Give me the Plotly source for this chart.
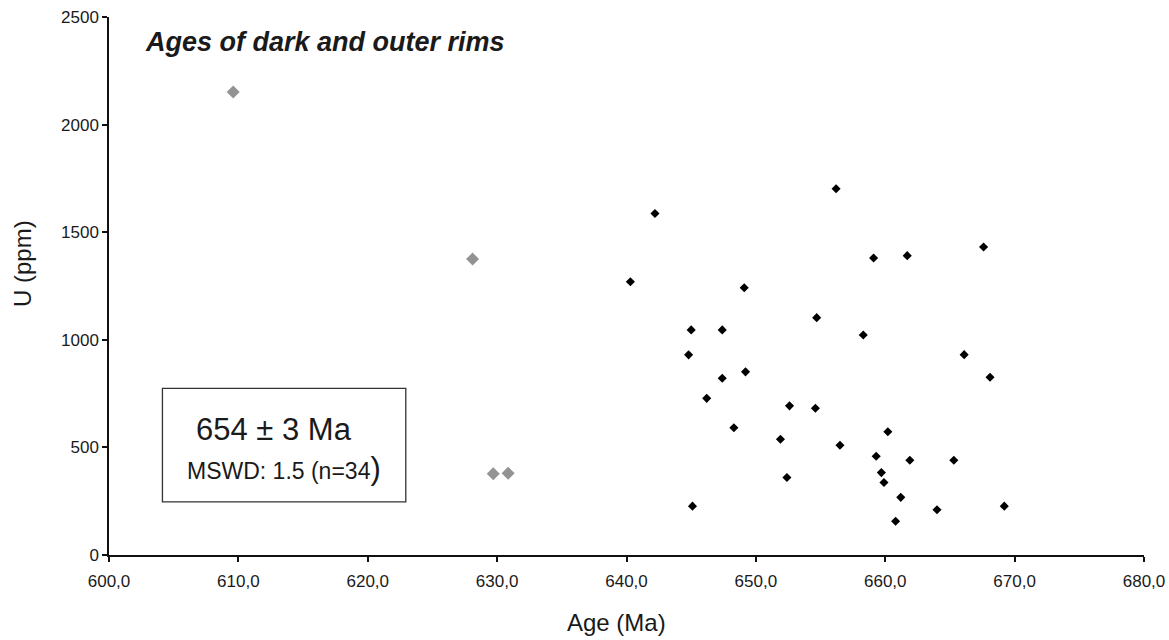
import plotly.graph_objects as go

# Data
age_rims = [656.2, 642.2, 667.6, 659.1, 661.7, 640.3, 649.1, 654.7, 658.3, 645.0,
            647.4, 644.8, 666.1, 647.4, 649.2, 668.1, 646.2, 652.6, 654.6, 648.3,
            651.9, 660.2, 656.5, 659.3, 661.9, 665.3, 659.7, 659.9, 652.4, 661.2,
            645.1, 664.0, 669.2, 660.8]
u_rims = [1702, 1587, 1431, 1380, 1391, 1270, 1242, 1103, 1022, 1046,
          1046, 930, 931, 821, 851, 826, 728, 693, 682, 591,
          538, 573, 510, 459, 440, 440, 383, 337, 360, 268,
          227, 210, 227, 157]

age_excluded = [609.6, 628.1, 629.7, 630.85]
u_excluded = [2152, 1375, 377, 380]

x_ticks = [600, 610, 620, 630, 640, 650, 660, 670, 680]
x_tick_labels = ["600,0", "610,0", "620,0", "630,0", "640,0", "650,0", "660,0", "670,0", "680,0"]
y_ticks = [0, 500, 1000, 1500, 2000, 2500]

title_text = "Ages of dark and outer rims"
age_text = "654 ± 3 Ma"
mswd_text = "MSWD: 1.5 (n=34<span style='font-size:31px'>)</span>"

FONT = "Liberation Sans, Arial, Helvetica, sans-serif"

# full-window figure; the page body margin is removed by a post script
L, R, T, B = 109, 25, 17, 85
W, H = 1169, 640
PW, PH = W - L - R, H - T - B


def px_x(page_x):
    return (page_x - L) / PW


def px_y(page_y):
    return (H - B - page_y) / PH


fig = go.Figure()
fig.add_trace(go.Scatter(
    x=age_excluded, y=u_excluded, mode="markers",
    marker=dict(symbol="diamond", size=10, color="#939393", line=dict(width=0)),
    name="excluded", showlegend=False, hoverinfo="x+y"))
fig.add_trace(go.Scatter(
    x=age_rims, y=u_rims, mode="markers",
    marker=dict(symbol="diamond", size=7, color="#000000", line=dict(width=0)),
    name="dark and outer rims", showlegend=False, hoverinfo="x+y"))

fig.update_layout(
    width=W, height=H,
    margin=dict(l=L, r=R, t=T, b=B, autoexpand=False),
    paper_bgcolor="white", plot_bgcolor="white",
    font=dict(family=FONT, color="#1a1a1a"),
    showlegend=False,
)
fig.update_xaxes(
    range=[600, 680], tickvals=x_ticks, ticktext=x_tick_labels, automargin=False,
    ticklabeloverflow="allow", ticklabelstandoff=5,
    showgrid=False, zeroline=False, showline=True, linecolor="#111111", linewidth=1.5,
    ticks="outside", ticklen=5, tickcolor="#111111", tickwidth=1.5,
    tickfont=dict(size=17, color="#1a1a1a"),
)
fig.update_yaxes(
    range=[0, 2500], tickvals=y_ticks, automargin=False,
    ticklabeloverflow="allow",
    showgrid=False, zeroline=False, showline=True, linecolor="#111111", linewidth=1.5,
    ticks="outside", ticklen=5, tickcolor="#111111", tickwidth=1.5,
    tickfont=dict(size=17, color="#1a1a1a"),
)

# Box with result
fig.add_shape(type="rect", xref="x", yref="y", x0=604.13, x1=622.94, y0=247, y1=774,
              line=dict(color="#333333", width=1.3), fillcolor="white", layer="above")

annotations = [
    dict(text=f"<b><i>{title_text}</i></b>", xref="paper", yref="paper",
         x=px_x(142.7), y=px_y(42.5),
         xanchor="left", yanchor="middle", showarrow=False,
         font=dict(size=27, color="#1a1a1a")),
    dict(text=age_text, xref="x", yref="y", x=606.6, y=(555.5 - 429.5) * 4.643,
         xanchor="left", yanchor="middle", showarrow=False,
         font=dict(size=31, color="#1a1a1a")),
    dict(text=mswd_text, xref="x", yref="y", x=605.9, y=(555.5 - 468.5) * 4.643,
         xanchor="left", yanchor="middle", showarrow=False,
         font=dict(size=23, color="#1a1a1a")),
    dict(text="Age (Ma)", xref="paper", yref="paper",
         x=px_x(616), y=px_y(622),
         xanchor="center", yanchor="middle", showarrow=False,
         font=dict(size=24, color="#1a1a1a")),
    dict(text="U (ppm)", xref="paper", yref="paper",
         x=px_x(22), y=px_y(264), textangle=-90,
         xanchor="center", yanchor="middle", showarrow=False,
         font=dict(size=24, color="#1a1a1a")),
]
fig.update_layout(annotations=annotations)

fig.write_html(
    "out.html",
    config={"displayModeBar": False},
    post_script="document.body.style.margin='0';document.body.style.overflow='hidden';",
)
